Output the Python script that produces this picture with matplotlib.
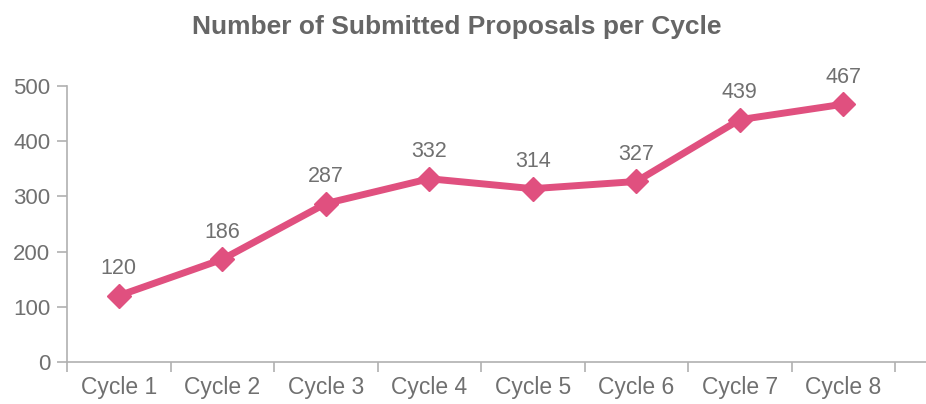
import matplotlib
matplotlib.use("Agg")
import matplotlib.pyplot as plt

categories = ["Cycle 1", "Cycle 2", "Cycle 3", "Cycle 4", "Cycle 5", "Cycle 6", "Cycle 7", "Cycle 8"]
proposals = [120, 186, 287, 332, 314, 327, 439, 467]
y_ticks = [0, 100, 200, 300, 400, 500]

plt.rcParams['font.family'] = ['Liberation Sans', 'DejaVu Sans']
text_color = "#707070"
axis_color = "#b0b0b0"
line_color = "#e0507f"

fig = plt.figure(figsize=(9.26, 4.04), dpi=100)
ax = fig.add_axes([67/926, 42/404, 1 - 67/926, 276/404])

x = list(range(len(categories)))
ax.plot(x, proposals, color=line_color, lw=5, marker="D", ms=12, solid_joinstyle="miter")
for xi, v in zip(x, proposals):
    ax.annotate(str(v), (xi, v), xytext=(0, 12), textcoords="offset points",
                ha="center", va="bottom", fontsize=15.5, color=text_color)

ax.set_ylim(0, 500)
ax.set_yticks(y_ticks)
ax.set_xlim(-0.5, -0.5 + 859/103.5)
ax.set_xticks([i - 0.5 for i in range(len(categories) + 1)])
ax.set_xticklabels([])
ax.set_xticks(x, minor=True)
ax.set_xticklabels(categories, minor=True)
ax.tick_params(axis="x", which="minor", length=0, pad=10, labelsize=16.5, labelcolor=text_color)
ax.tick_params(axis="x", which="major", length=7, color=axis_color, width=1.2)
ax.tick_params(axis="y", length=7, color=axis_color, width=1.2, labelsize=16, labelcolor=text_color, pad=5)

for s in ["top", "right"]:
    ax.spines[s].set_visible(False)
for s in ["left", "bottom"]:
    ax.spines[s].set_color(axis_color)
    ax.spines[s].set_linewidth(1.2)

fig.text(457/926, 1 - 27/404, "Number of Submitted Proposals per Cycle", ha="center", va="center",
         fontsize=19, fontweight="bold", color="#666666")

fig.savefig("out.png", dpi=100)
